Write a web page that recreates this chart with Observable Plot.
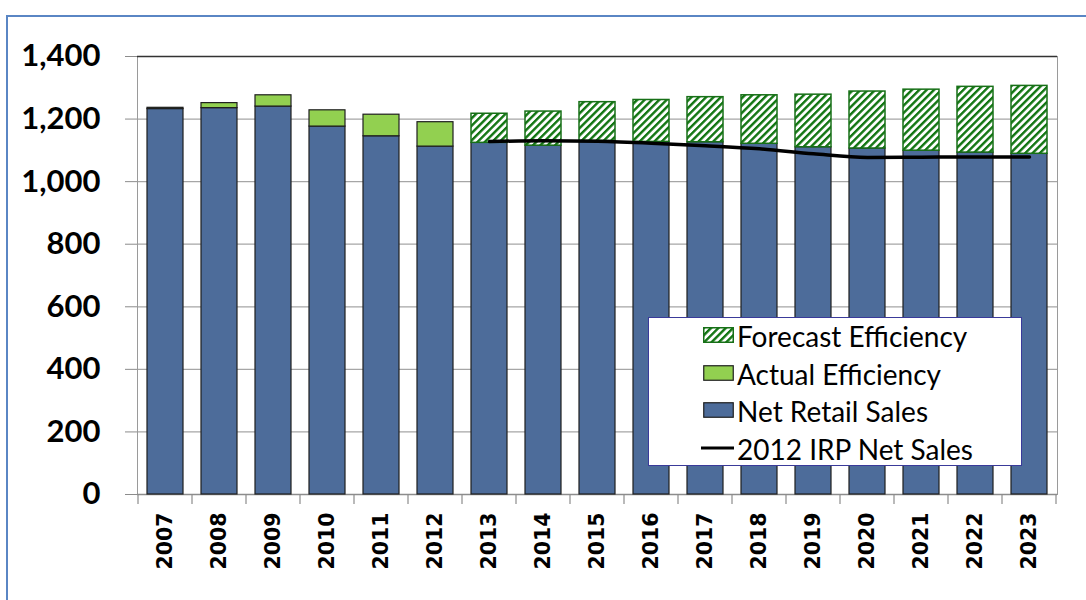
<!DOCTYPE html>
<html>
<head>
<meta charset="utf-8">
<script src="https://cdn.jsdelivr.net/npm/d3@7"></script>
<script src="https://cdn.jsdelivr.net/npm/@observablehq/plot@0.6"></script>
<style>
  html, body { margin: 0; padding: 0; background: #fff; }
  #wrap { position: relative; width: 1086px; height: 600px; overflow: hidden; }
  #frame { position: absolute; left: 6px; top: 15px; width: 1200px; height: 700px;
           border-left: 2px solid #5a86c4; border-top: 2px solid #5a86c4; }
  #chart { position: absolute; left: 0; top: 0; }
  #legend { position: absolute; left: 648px; top: 317px; width: 372px; height: 147px;
            border: 1.5px solid #3a3a9a; background: #fff; font-family: Lato, sans-serif;
            font-size: 28px; color: #000; }
  .sw { position: absolute; left: 54px; height: 16px; }
  .sw svg { display: block; }
  .lab { position: absolute; left: 88px; white-space: nowrap; line-height: 28px; height: 28px; }
  g[aria-label="y-axis tick label"] { font: bold 31px Lato, sans-serif; fill: #000; }
  g[aria-label="x-axis tick label"] { font: bold 20.5px "DejaVu Sans", sans-serif; fill: #000; }
  g[aria-label="y-axis tick"] { stroke: #8c8c8c; }
</style>
</head>
<body>
<svg width="0" height="0" style="position:absolute">
  <defs>
    <pattern id="hatch" patternUnits="userSpaceOnUse" width="5.2" height="5.2" patternTransform="rotate(45)">
      <rect width="5.2" height="5.2" fill="#ffffff"></rect>
      <rect x="0" y="0" width="2.4" height="5.2" fill="#117511"></rect>
    </pattern>
  </defs>
</svg>
<div id="wrap">
  <div id="frame"></div>
  <div id="chart"></div>
  <div id="legend"></div>
</div>
<script>
// ---- data ----
const years = ["2007","2008","2009","2010","2011","2012","2013","2014","2015","2016","2017","2018","2019","2020","2021","2022","2023"];
const netRetailSales = [1232,1235,1240,1176,1145,1112,1124,1115,1130,1127,1126,1121,1110,1106,1099,1093,1089];
const actualEfficiency = [4,16,36,52,69,78,null,null,null,null,null,null,null,null,null,null,null];
const forecastEfficiency = [null,null,null,null,null,null,93,109,124,134,144,155,168,182,195,210,217];
const irpYears = ["2013","2014","2015","2016","2017","2018","2019","2020","2021","2022","2023"];
const irpNetSales = [1128,1131,1129,1123,1115,1105,1089,1077,1078,1079,1079];
const yTicks = [0,200,400,600,800,1000,1200,1400];
const legendLabels = ["Forecast Efficiency","Actual Efficiency","Net Retail Sales","2012 IRP Net Sales"];

const BLUE = "#4d6c9a", GREEN = "#92d050", HATCH_STROKE = "#177017";

// build stacked segments
const netBars = years.map((yr, i) => ({year: yr, y1: 0, y2: netRetailSales[i]}));
const actBars = years.map((yr, i) => actualEfficiency[i] == null ? null :
  ({year: yr, y1: netRetailSales[i], y2: netRetailSales[i] + actualEfficiency[i]})).filter(Boolean);
const fcBars = years.map((yr, i) => forecastEfficiency[i] == null ? null :
  ({year: yr, y1: netRetailSales[i], y2: netRetailSales[i] + forecastEfficiency[i]})).filter(Boolean);
const irp = irpYears.map((yr, i) => ({year: yr, value: irpNetSales[i]}));

const plot = Plot.plot({
  width: 1086,
  height: 600,
  marginLeft: 137,
  marginRight: 29,
  marginTop: 56,
  marginBottom: 106,
  style: {fontFamily: "Lato, sans-serif", background: "transparent", overflow: "visible"},
  x: {domain: years, paddingInner: 0.335, paddingOuter: 0.1675, label: null},
  y: {domain: [0, 1400], label: null},
  marks: [
    Plot.ruleY(yTicks.filter(d => d > 0 && d < 1400), {stroke: "#a6a6a6", strokeWidth: 1.3}),
    Plot.frame({stroke: "#9a9a9a"}),
    Plot.ruleY([1400], {stroke: "#333", strokeWidth: 1.3}),
    Plot.ruleY([0], {stroke: "#8c8c8c", strokeWidth: 1.3}),
    Plot.barY(netBars, {x: "year", y1: "y1", y2: "y2", fill: BLUE, stroke: "#1e1e1e", strokeWidth: 1.2}),
    Plot.barY(actBars, {x: "year", y1: "y1", y2: "y2", fill: GREEN, stroke: "#1e1e1e", strokeWidth: 1.2}),
    Plot.barY(fcBars, {x: "year", y1: "y1", y2: "y2", fill: "url(#hatch)", stroke: HATCH_STROKE, strokeWidth: 1.5}),
    Plot.line(irp, {x: "year", y: "value", stroke: "#000", strokeWidth: 3.5, curve: "monotone-x"}),
    Plot.axisY({ticks: yTicks, tickFormat: d3.format(","), tickSize: 12, tickPadding: 25}),
    Plot.axisX({tickSize: 0, tickRotate: -90, tickPadding: 18})
  ]
});
document.getElementById("chart").appendChild(plot);

// category boundary ticks under the x axis (Excel style)
const sx = plot.scale("x"), sy = plot.scale("y");
const step = sx.step != null ? sx.step : (sx.range[1] - sx.range[0]) / years.length;
const bw = sx.bandwidth != null ? sx.bandwidth : step * (1 - 0.335);
const bounds = years.map(yr => sx.apply(yr) - (step - bw) / 2);
bounds.push(bounds[bounds.length - 1] + step);
const y0 = sy.apply(0);
d3.select(plot).append("g").selectAll("line").data(bounds).join("line")
  .attr("x1", d => d).attr("x2", d => d)
  .attr("y1", y0).attr("y2", y0 + 10)
  .attr("stroke", "#8c8c8c").attr("stroke-width", 1.2);

// legend
const legend = document.getElementById("legend");
const swatches = [
  `<svg width="31" height="16"><rect x="0.75" y="0.75" width="29.5" height="14.5" fill="url(#hatch)" stroke="${HATCH_STROKE}" stroke-width="1.5"/></svg>`,
  `<svg width="31" height="16"><rect x="0.75" y="0.75" width="29.5" height="14.5" fill="${GREEN}" stroke="#1e1e1e" stroke-width="1.2"/></svg>`,
  `<svg width="31" height="16"><rect x="0.75" y="0.75" width="29.5" height="14.5" fill="${BLUE}" stroke="#1e1e1e" stroke-width="1.2"/></svg>`,
  `<svg width="33" height="16"><line x1="0" x2="33" y1="8" y2="8" stroke="#000" stroke-width="3"/></svg>`
];
legendLabels.forEach((lab, i) => {
  const c = 17 + i * 37.5;
  const sw = document.createElement("span");
  sw.className = "sw";
  sw.style.top = (c - 8) + "px";
  if (i === 3) sw.style.left = "52px";
  sw.innerHTML = swatches[i];
  const tx = document.createElement("span");
  tx.className = "lab";
  tx.style.top = (c - 13) + "px";
  tx.textContent = lab;
  legend.appendChild(sw);
  legend.appendChild(tx);
});
</script>
</body>
</html>
